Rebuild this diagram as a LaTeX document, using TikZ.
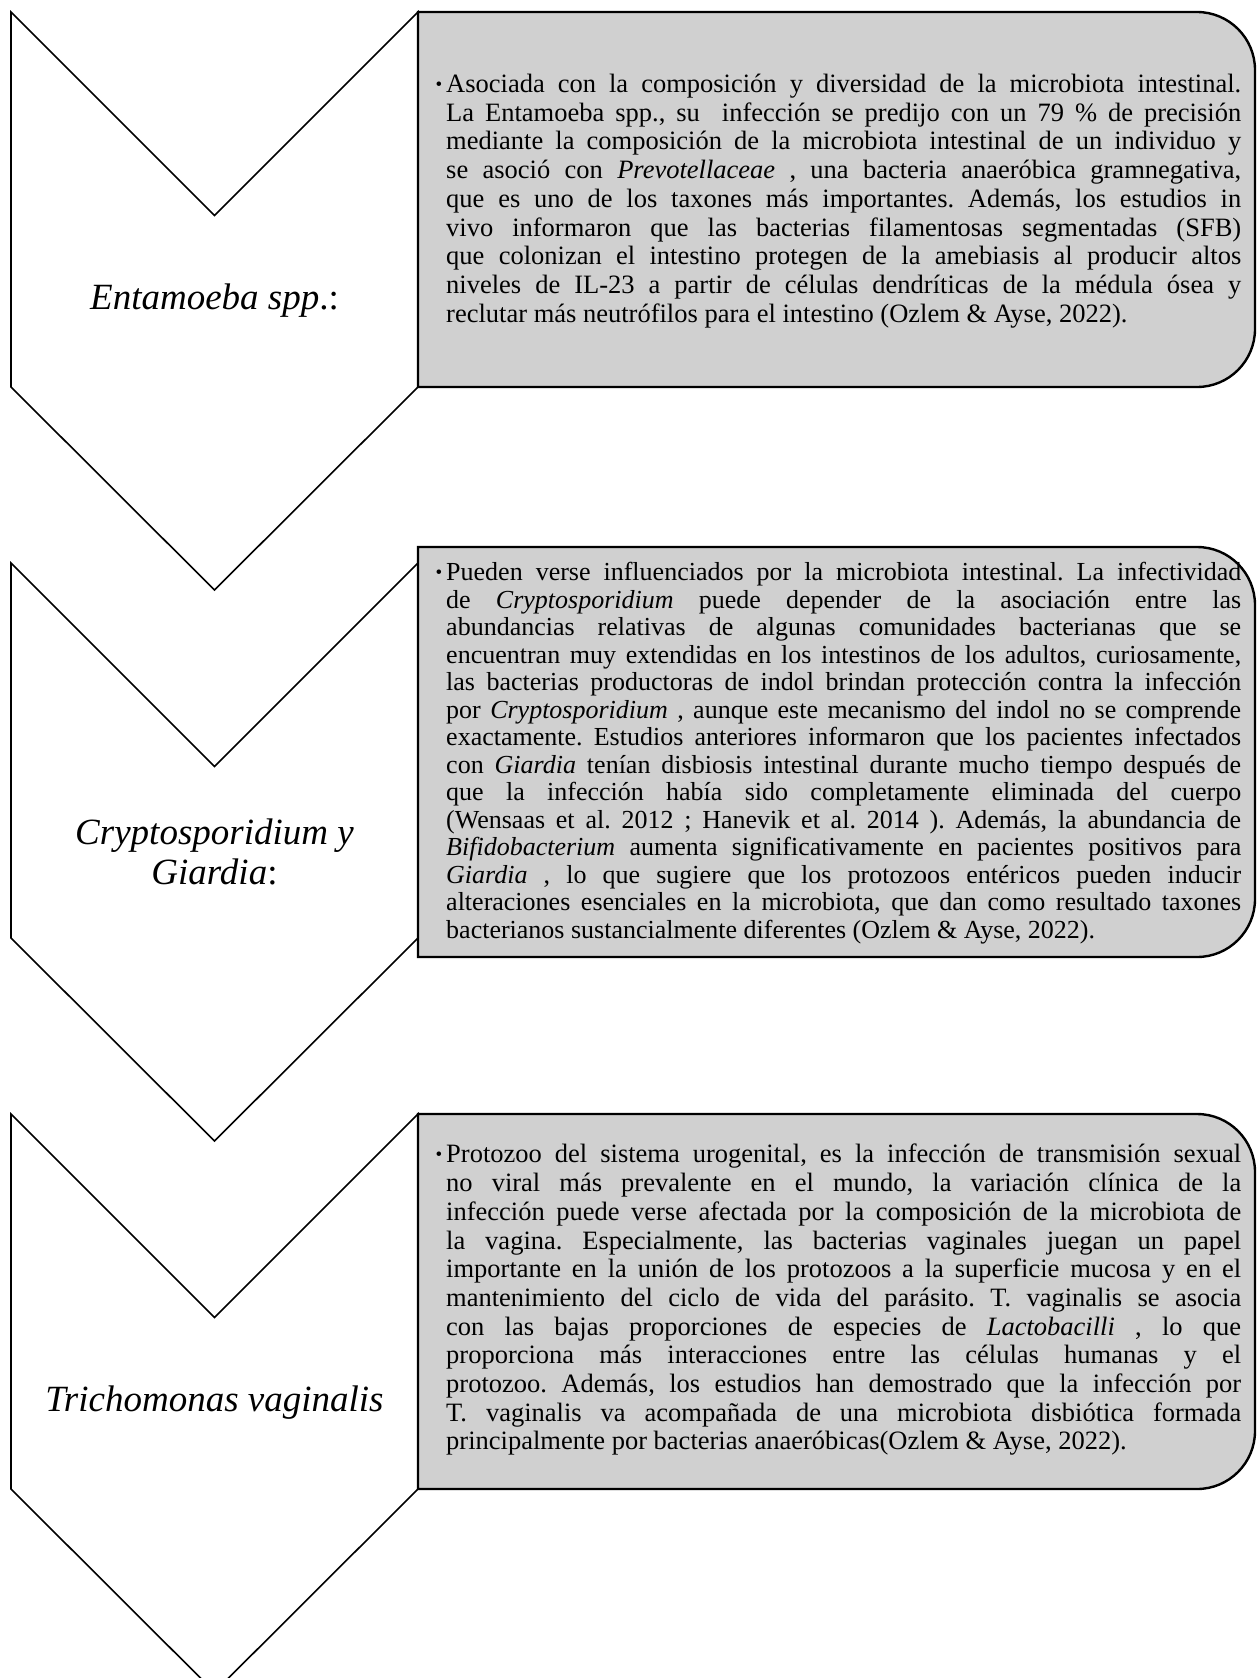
\documentclass[tikz,border=0pt]{standalone}
\usepackage{fontspec}
\setmainfont{Liberation Serif}
\definecolor{boxgray}{RGB}{208,208,208}
\tikzset{
  chevshape/.style={draw=black, fill=white, line width=1.6pt, line join=miter},
  infobox/.style={draw=black, fill=boxgray, line width=2.4pt, line join=miter},
  bodytext/.style={inner sep=0pt, anchor=west, align=left, font=\fontsize{26.5}{28.7}\selectfont},
  bodytextb/.style={inner sep=0pt, anchor=west, align=left, font=\fontsize{26}{27.5}\selectfont},
  chevtext/.style={inner sep=0pt, align=center, font=\fontsize{37}{40}\selectfont},
}
\newlength\lw \setlength\lw{795pt}
\newcommand\jl[1]{\makebox[\lw][s]{#1}}
\newcommand\bul{\llap{\raisebox{2pt}{\fontsize{19}{19}\selectfont\textbullet}\hspace{4pt}}}
% chevron with top at #1
\newcommand\chevpath[1]{(11,#1) -- (214.5,{#1+203.5}) -- (418,#1) -- (418,{#1+375}) -- (214.5,{#1+578}) -- (11,{#1+375}) -- cycle}
% box with right rounded corners, top #1 bottom #2
\newcommand\boxpath[2]{(418,#1) -- (1197,#1) .. controls (1229,#1) and (1255,{#1+26}) .. (1255,{#1+58}) -- (1255,{#2-58}) .. controls (1255,{#2-26}) and (1229,#2) .. (1197,#2) -- (418,#2) -- cycle}
\begin{document}
\frenchspacing
\begin{tikzpicture}[x=1pt,y=-1pt]
\useasboundingbox (0,0) rectangle (1257,1678);
\clip (0,0) rectangle (1257,1678);
\fill[white] (0,0) rectangle (1257,1678);

% chevrons
\draw[chevshape] \chevpath{12};
\draw[chevshape] \chevpath{563};
\draw[chevshape] \chevpath{1114};

% boxes
\draw[infobox] \boxpath{12}{387};
\draw[infobox] \boxpath{547}{957};
\draw[infobox] \boxpath{1114}{1489};

% chevron labels
\node[chevtext] (lab1) at (214.5,301) {\textit{Entamoeba spp}.:};
\node[chevtext] (lab2) at (214.5,852) {\textit{Cryptosporidium y}\\\textit{Giardia}:};
\node[chevtext] (lab3) at (214.5,1403) {\textit{Trichomonas vaginalis}};

% box texts
\node[bodytext] (txt1) at (446,201) {%
\bul\jl{Asociada con la composición y diversidad de la microbiota intestinal.}\\
\jl{La Entamoeba spp., su\ \ infección se predijo con un 79 \% de precisión}\\
\jl{mediante la composición de la microbiota intestinal de un individuo y}\\
\jl{se asoció con \textit{Prevotellaceae} , una bacteria anaeróbica gramnegativa,}\\
\jl{que es uno de los taxones más importantes. Además, los estudios in}\\
\jl{vivo informaron que las bacterias filamentosas segmentadas (SFB)}\\
\jl{que colonizan el intestino protegen de la amebiasis al producir altos}\\
\jl{niveles de IL-23 a partir de células dendríticas de la médula ósea y}\\
reclutar más neutrófilos para el intestino (Ozlem \& Ayse, 2022).};

\node[bodytextb] (txt2) at (446,753) {%
\bul\jl{Pueden verse influenciados por la microbiota intestinal. La infectividad}\\
\jl{de \textit{Cryptosporidium} puede depender de la asociación entre las}\\
\jl{abundancias relativas de algunas comunidades bacterianas que se}\\
\jl{encuentran muy extendidas en los intestinos de los adultos, curiosamente,}\\
\jl{las bacterias productoras de indol brindan protección contra la infección}\\
\jl{por \textit{Cryptosporidium} , aunque este mecanismo del indol no se comprende}\\
\jl{exactamente. Estudios anteriores informaron que los pacientes infectados}\\
\jl{con \textit{Giardia} tenían disbiosis intestinal durante mucho tiempo después de}\\
\jl{que la infección había sido completamente eliminada del cuerpo}\\
\jl{(Wensaas et al. 2012 ; Hanevik et al. 2014 ). Además, la abundancia de}\\
\jl{\textit{Bifidobacterium} aumenta significativamente en pacientes positivos para}\\
\jl{\textit{Giardia} , lo que sugiere que los protozoos entéricos pueden inducir}\\
\jl{alteraciones esenciales en la microbiota, que dan como resultado taxones}\\
bacterianos sustancialmente diferentes (Ozlem \& Ayse, 2022).};

\node[bodytext] (txt3) at (446,1300) {%
\bul\jl{Protozoo del sistema urogenital, es la infección de transmisión sexual}\\
\jl{no viral más prevalente en el mundo, la variación clínica de la}\\
\jl{infección puede verse afectada por la composición de la microbiota de}\\
\jl{la vagina. Especialmente, las bacterias vaginales juegan un papel}\\
\jl{importante en la unión de los protozoos a la superficie mucosa y en el}\\
\jl{mantenimiento del ciclo de vida del parásito. T. vaginalis se asocia}\\
\jl{con las bajas proporciones de especies de \textit{Lactobacilli} , lo que}\\
\jl{proporciona más interacciones entre las células humanas y el}\\
\jl{protozoo. Además, los estudios han demostrado que la infección por}\\
\jl{T. vaginalis va acompañada de una microbiota disbiótica formada}\\
principalmente por bacterias anaeróbicas(Ozlem \& Ayse, 2022).};
\end{tikzpicture}
\end{document}
